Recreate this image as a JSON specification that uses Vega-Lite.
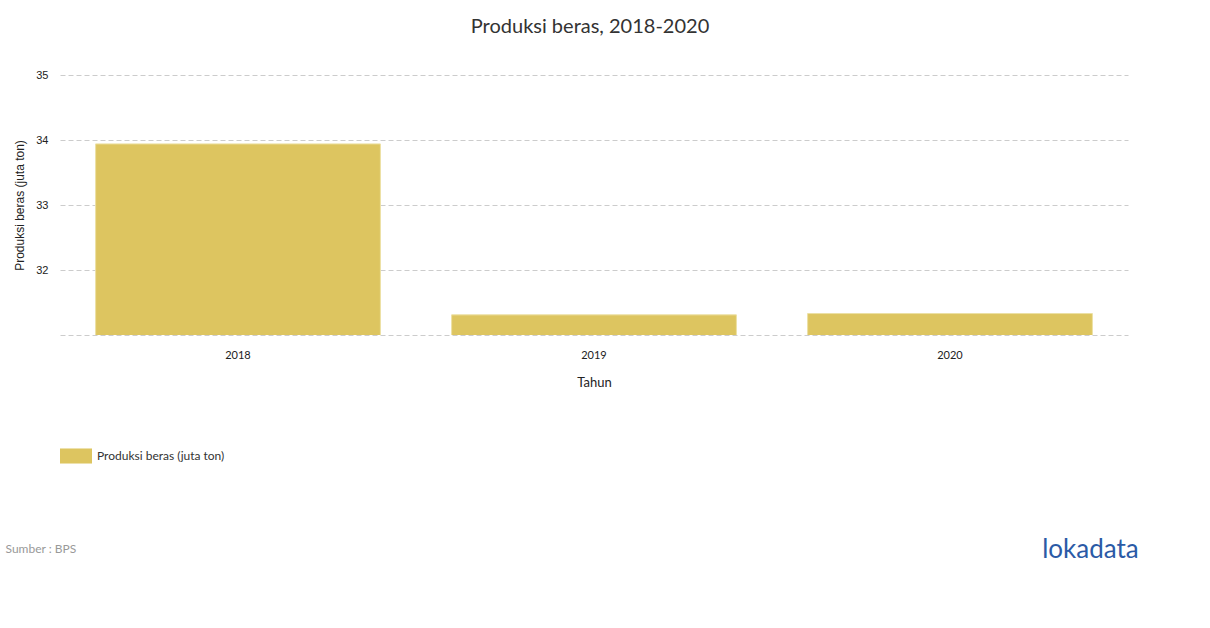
{
  "$schema": "https://vega.github.io/schema/vega-lite/v6.json",
  "width": 1068,
  "height": 260,
  "autosize": {"type": "none"},
  "padding": {"left": 60, "top": 75, "right": 82, "bottom": 293},
  "background": "white",
  "title": {
    "text": "Produksi beras, 2018-2020",
    "font": "Lato",
    "fontSize": 20,
    "fontWeight": "normal",
    "color": "#333333",
    "anchor": "middle",
    "frame": "group",
    "offset": 32,
    "dx": -4
  },
  "config": {
    "view": {"stroke": null},
    "axis": {"domain": false, "ticks": false}
  },
  "data": {
    "values": [
      {"tahun": "2018", "produksi": 33.94},
      {"tahun": "2019", "produksi": 31.31},
      {"tahun": "2020", "produksi": 31.33}
    ]
  },
  "layer": [
    {
      "mark": {"type": "bar", "stroke": "#ece0a4", "strokeWidth": 1, "clip": true},
      "encoding": {
        "x": {
          "field": "tahun",
          "type": "ordinal",
          "scale": {"paddingInner": 0.2, "paddingOuter": 0.1},
          "axis": {
            "title": "Tahun",
            "labelAngle": 0,
            "labelFont": "Lato",
            "labelFontSize": 11,
            "labelColor": "#222222",
            "labelPadding": 14,
            "titleFont": "Lato",
            "titleFontSize": 13,
            "titleFontWeight": "normal",
            "titleColor": "#222222",
            "titlePadding": 16,
            "grid": false
          }
        },
        "y": {
          "field": "produksi",
          "type": "quantitative",
          "scale": {"domain": [31, 35], "nice": false, "zero": false},
          "axis": {
            "title": "Produksi beras (juta ton)",
            "values": [31, 32, 33, 34, 35],
            "labelExpr": "datum.value == 31 ? '' : datum.label",
            "labelFont": "Liberation Sans",
            "labelFontSize": 11,
            "labelColor": "#222222",
            "labelPadding": 12,
            "titleFont": "Liberation Sans",
            "titleFontSize": 12,
            "titleFontWeight": "normal",
            "titleColor": "#222222",
            "titlePadding": 9,
            "grid": true,
            "gridColor": "#cccccc",
            "gridDash": [5, 3],
            "gridWidth": 1
          }
        },
        "color": {
          "datum": "Produksi beras (juta ton)",
          "type": "nominal",
          "scale": {"range": ["#ddc560"]},
          "legend": {
            "title": null,
            "orient": "none",
            "legendX": 0,
            "legendY": 365,
            "symbolType": "M-1,-0.47H1V0.47H-1Z",
            "symbolSize": 1024,
            "symbolStrokeWidth": 0,
            "labelFont": "Lato",
            "labelFontSize": 12,
            "labelColor": "#333333",
            "labelOffset": 5
          }
        }
      }
    },
    {
      "mark": {"type": "point", "opacity": 0},
      "encoding": {
        "y": {
          "datum": 0,
          "type": "quantitative",
          "axis": {
            "orient": "right",
            "title": "lokadata",
            "labels": false,
            "grid": false,
            "titleAngle": 0,
            "titleX": -38,
            "titleY": 474,
            "titleAlign": "center",
            "titleBaseline": "middle",
            "titleFont": "Lato",
            "titleFontSize": 26,
            "titleFontWeight": "normal",
            "titleColor": "#2b5aa6"
          }
        }
      }
    },
    {
      "mark": {"type": "point", "opacity": 0},
      "encoding": {
        "x": {
          "datum": 0,
          "type": "quantitative",
          "axis": {
            "orient": "bottom",
            "title": "Sumber : BPS",
            "labels": false,
            "grid": false,
            "titleAngle": 0,
            "titleX": -55,
            "titleY": 213,
            "titleAlign": "left",
            "titleBaseline": "middle",
            "titleFont": "Lato",
            "titleFontSize": 12,
            "titleFontWeight": "normal",
            "titleColor": "#999999"
          }
        }
      }
    }
  ],
  "resolve": {
    "scale": {"x": "independent", "y": "independent"},
    "axis": {"x": "independent", "y": "independent"}
  }
}
